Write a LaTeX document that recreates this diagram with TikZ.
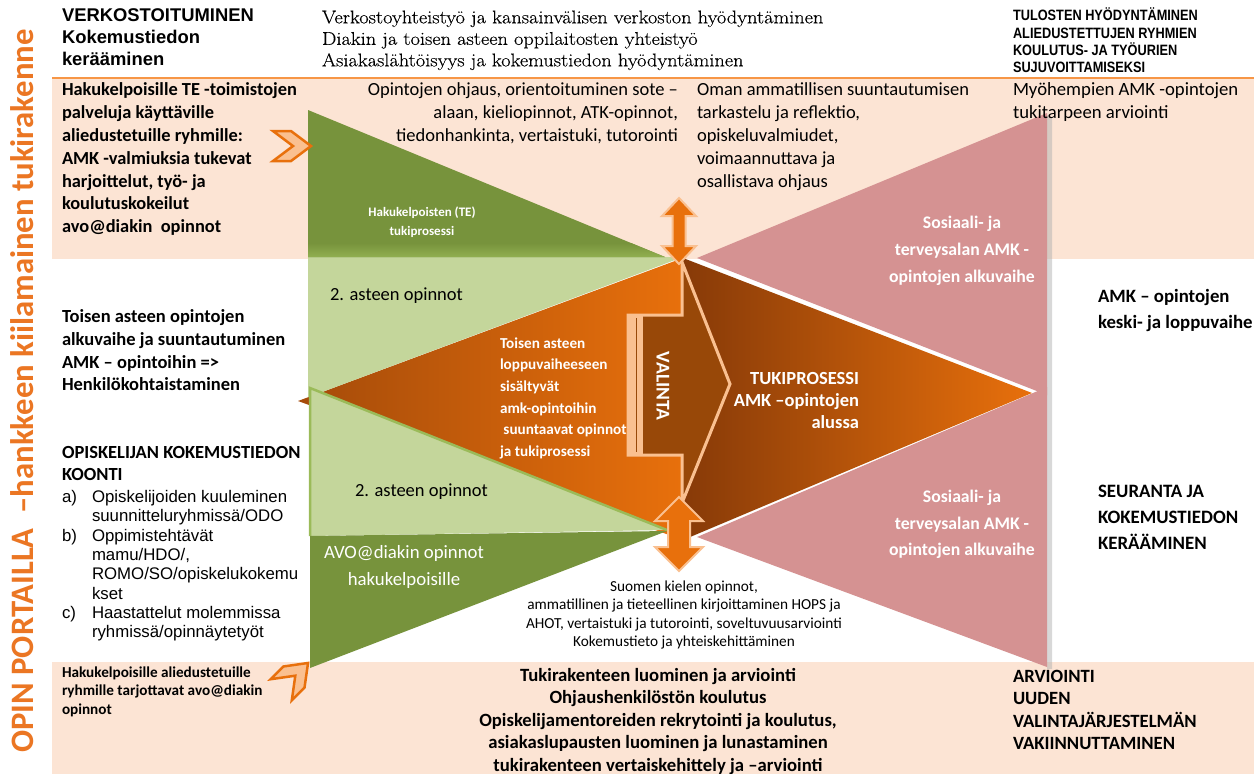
\documentclass[tikz,border=0pt]{standalone}
\usepackage{fontspec}
\newfontfamily\calib{Carlito}
\newfontfamily\arialf{Liberation Sans}
\newfontfamily\arialn[FakeStretch=0.85]{Liberation Sans}
\newfontfamily\cambr[FakeStretch=1.1,FakeBold=0.3]{Latin Modern Roman}
\newcommand\fsz[2]{\fontsize{#1}{#2}\selectfont}
\definecolor{peach}{RGB}{252,228,212}
\definecolor{oline}{RGB}{247,150,70}
\definecolor{dgreen}{RGB}{119,147,60}
\definecolor{dgreenL}{RGB}{145,175,80}
\definecolor{lgreen}{RGB}{196,214,155}
\definecolor{gline}{RGB}{155,187,89}
\definecolor{pinkt}{RGB}{213,146,146}
\definecolor{orng}{RGB}{232,112,12}
\definecolor{brwn}{RGB}{152,72,8}
\definecolor{dbrwn}{RGB}{135,58,8}
\definecolor{lbrwn}{RGB}{165,75,10}
\definecolor{lorng}{RGB}{250,192,144}
\definecolor{titleor}{RGB}{235,118,35}
\newcommand\dblarr[6]{%
  \filldraw[fill=orng, draw=lorng, line width=2pt, line join=miter]
   (#1,#2) -- ({#1+#4},{#2+#6}) -- ({#1+#5},{#2+#6}) -- ({#1+#5},{#3-#6})
   -- ({#1+#4},{#3-#6}) -- (#1,#3) -- ({#1-#4},{#3-#6}) -- ({#1-#5},{#3-#6})
   -- ({#1-#5},{#2+#6}) -- ({#1-#4},{#2+#6}) -- cycle;}
\begin{document}
\begin{tikzpicture}[x=1pt,y=-1pt,
  txt/.style={inner sep=0pt, outer sep=0pt},
  blk/.style={txt, anchor=north west, align=left},
  chev/.style={fill=lorng, draw=orng, line width=2.5pt, line join=miter}]
\path[use as bounding box] (0,0) rectangle (1254,774);
\fill[white] (0,0) rectangle (1254,774);
% bands
\fill[peach] (52,78) rectangle (1254,259);
\fill[peach] (52,662) rectangle (1254,774);
\draw[oline, line width=2.5pt] (52,78) -- (1254,78);
% pink triangles
\fill[black!30, opacity=0.5] (1047,115) -- (1052,118) -- (1052,669) -- (1047,669) -- cycle;
\fill[pinkt] (697,258) -- (1047,113) -- (1047,395) -- cycle;
\fill[pinkt] (697,537) -- (1047,387) -- (1047,667) -- cycle;
% right brown triangle
\shade[left color=dbrwn, right color=orng] (683,258) -- (1032,393) -- (683,540) -- cycle;
% left orange triangle
\shade[left color=lbrwn, right color=orng] (298,401) -- (683,258) -- (683,540) -- cycle;
% light green triangles
\fill[lgreen] (308,257) -- (683,257) -- (308,397.3) -- cycle;
\fill[lgreen] (310,388) -- (667,530) -- (310,536) -- cycle;
\draw[gline, line width=2.5pt, line join=miter] (310,536) -- (310,388) -- (667,530);
% dark green triangles
\fill[dgreen] (308,110) -- (665,257) -- (308,257) -- cycle;
\shade[top color=dgreen, bottom color=dgreenL] (308,243) -- (631,243) -- (665,257) -- (308,257) -- cycle;
\fill[dgreen] (310,536) -- (667,531) -- (310,668) -- cycle;
% VALINTA block arrow
\filldraw[fill=brwn, draw=lorng, line width=3pt, line join=miter]
  (628,315) -- (682,315) -- (682,262) -- (730,384) -- (682,503) -- (682,455) -- (628,455) -- cycle;
\fill[lorng] (628,315) rectangle (643,455);
\draw[brwn, line width=1.5pt] (636.5,318) -- (636.5,452);
\node[txt, rotate=-90, text=white, font=\calib\bfseries\fsz{19.5}{19.5}] (valinta) at (663,386) {VALINTA};
% double arrows
\dblarr{679}{198}{264}{17}{6.5}{18}
\dblarr{679}{497}{571}{24}{11}{24}
% chevrons
\begin{scope}[shift={(292,146)}]
\path[chev] (-19,-15) -- (-1,-15) -- (19,0) -- (-1,15) -- (-19,15) -- (1,0) -- cycle;
\end{scope}
\begin{scope}[shift={(294.6,676.4)}, rotate=45]
\path[chev] (-19,-15) -- (-1,-15) -- (19,0) -- (-1,15) -- (-19,15) -- (1,0) -- cycle;
\end{scope}
% title
\node[txt, rotate=90, text=titleor, font=\calib\bfseries\fsz{32.7}{32.7}] (title) at (22,391) {OPIN PORTAILLA~ –hankkeen kiilamainen tukirakenne};
% top texts
\node[blk, font=\arialf\bfseries\fsz{18.4}{21.6}] (verk) at (62,9) {VERKOSTOITUMINEN\\Kokemustiedon\\kerääminen};
\node[blk, font=\cambr\fsz{18.5}{21.5}] (serif) at (322,10.5) {Verkostoyhteistyö ja kansainvälisen verkoston hyödyntäminen\\Diakin ja toisen asteen oppilaitosten yhteistyö\\Asiakaslähtöisyys ja kokemustiedon hyödyntäminen};
\node[blk, font=\arialn\bfseries\fsz{15}{17.3}] (tulos) at (1013,8) {TULOSTEN HYÖDYNTÄMINEN\\ALIEDUSTETTUJEN RYHMIEN\\KOULUTUS- JA TYÖURIEN\\SUJUVOITTAMISEKSI};
% top band texts
\node[blk, font=\calib\bfseries\fsz{18.4}{22.8}] (hakuTE) at (62,83) {Hakukelpoisille TE -toimistojen\\palveluja käyttäville\\aliedustetuille ryhmille:\\AMK -valmiuksia tukevat\\harjoittelut, työ- ja\\koulutuskokeilut\\avo@diakin\ \ opinnot};
\node[txt, anchor=north east, align=right, font=\calib\fsz{18.5}{23}] (ohjaus) at (678,83) {Opintojen ohjaus, orientoituminen sote –\\alaan, kieliopinnot, ATK-opinnot,\\tiedonhankinta, vertaistuki, tutorointi};
\node[blk, font=\calib\fsz{18.5}{23}] (oman) at (697,83) {Oman ammatillisen suuntautumisen\\tarkastelu ja reflektio,\\opiskeluvalmiudet,\\voimaannuttava ja\\osallistava ohjaus};
\node[blk, font=\calib\fsz{18.7}{23}] (myoh) at (1013,83) {Myöhempien AMK -opintojen\\tukitarpeen arviointi};
% shape texts
\node[txt, anchor=north, align=center, text=white, font=\calib\bfseries\fsz{13}{19.5}] (hteTxt) at (422,206.5) {Hakukelpoisten (TE)\\tukiprosessi};
\node[txt, anchor=west, font=\calib\fsz{18.5}{20}] (aste1) at (330,296) {2. asteen opinnot};
\node[txt, anchor=west, font=\calib\fsz{18.5}{20}] (aste2) at (355,492) {2. asteen opinnot};
\node[blk, text=white, font=\calib\bfseries\fsz{15.2}{21.7}] (toisenOr) at (500,337.5) {Toisen asteen\\loppuvaiheeseen\\sisältyvät\\amk-opintoihin\\\ suuntaavat opinnot\\ja tukiprosessi};
\node[txt, anchor=north east, align=right, text=white, font=\calib\bfseries\fsz{18.5}{22}] (tuki) at (859,372) {TUKIPROSESSI\\AMK –opintojen\\alussa};
\node[txt, anchor=north, align=center, text=white, font=\calib\bfseries\fsz{17.7}{27}] (sos1) at (962,216.5) {Sosiaali- ja\\terveysalan AMK -\\opintojen alkuvaihe};
\node[txt, anchor=north, align=center, text=white, font=\calib\bfseries\fsz{17.7}{26.5}] (sos2) at (962,490.5) {Sosiaali- ja\\terveysalan AMK -\\opintojen alkuvaihe};
\node[txt, anchor=north, align=center, text=white, font=\calib\fsz{18.8}{26.5}] (avo) at (404,545.5) {AVO@diakin opinnot\\hakukelpoisille};
% right column
\node[blk, font=\calib\bfseries\fsz{18.8}{26}] (amkkeski) at (1098,289.5) {AMK – opintojen\\keski- ja loppuvaihe};
\node[blk, font=\calib\bfseries\fsz{18.9}{26}] (seur) at (1098,485.5) {SEURANTA JA\\KOKEMUSTIEDON\\KERÄÄMINEN};
% left column
\node[blk, font=\calib\bfseries\fsz{18.5}{22.8}] (toisen) at (62,309.5) {Toisen asteen opintojen\\alkuvaihe ja suuntautuminen\\AMK – opintoihin =>\\Henkilökohtaistaminen};
\node[blk, font=\calib\bfseries\fsz{18.5}{22}] (opisk) at (62,446.5) {OPISKELIJAN KOKEMUSTIEDON\\KOONTI};
\node[blk, font=\arialf\fsz{16.8}{19.3}] (la) at (62,490.5) {a)};
\node[blk, font=\arialf\fsz{16.8}{19.3}] (ta) at (92,490.5) {Opiskelijoiden kuuleminen\\suunnitteluryhmissä/ODO};
\node[blk, font=\arialf\fsz{16.8}{19.3}] (lb) at (62,529.1) {b)};
\node[blk, font=\arialf\fsz{16.8}{19.3}] (tb) at (92,529.1) {Oppimistehtävät\\mamu/HDO/,\\ROMO/SO/opiskelukokemu\\kset};
\node[blk, font=\arialf\fsz{16.8}{19.3}] (lc) at (62,606.3) {c)};
\node[blk, font=\arialf\fsz{16.8}{19.3}] (tc) at (92,606.3) {Haastattelut molemmissa\\ryhmissä/opinnäytetyöt};
\node[blk, font=\calib\bfseries\fsz{15.2}{18.5}] (hakual) at (62,666.5) {Hakukelpoisille aliedustetuille\\ryhmille tarjottavat avo@diakin\\opinnot};
% bottom texts
\node[txt, anchor=north, align=center, font=\calib\fsz{15.3}{18.5}] (suomen) at (684,580.5) {Suomen kielen opinnot,\\ammatillinen ja tieteellinen kirjoittaminen HOPS ja\\AHOT, vertaistuki ja tutorointi, soveltuvuusarviointi\\Kokemustieto ja yhteiskehittäminen};
\node[txt, anchor=north, align=center, font=\calib\bfseries\fsz{18.7}{22.5}] (tukir) at (658,668) {Tukirakenteen luominen ja arviointi\\Ohjaushenkilöstön koulutus\\Opiskelijamentoreiden rekrytointi ja koulutus,\\asiakaslupausten luominen ja lunastaminen\\tukirakenteen vertaiskehittely ja –arviointi};
\node[blk, font=\calib\bfseries\fsz{18.7}{22.5}] (arv) at (1013,670) {ARVIOINTI\\UUDEN\\VALINTAJÄRJESTELMÄN\\VAKIINNUTTAMINEN};
\end{tikzpicture}
\end{document}
